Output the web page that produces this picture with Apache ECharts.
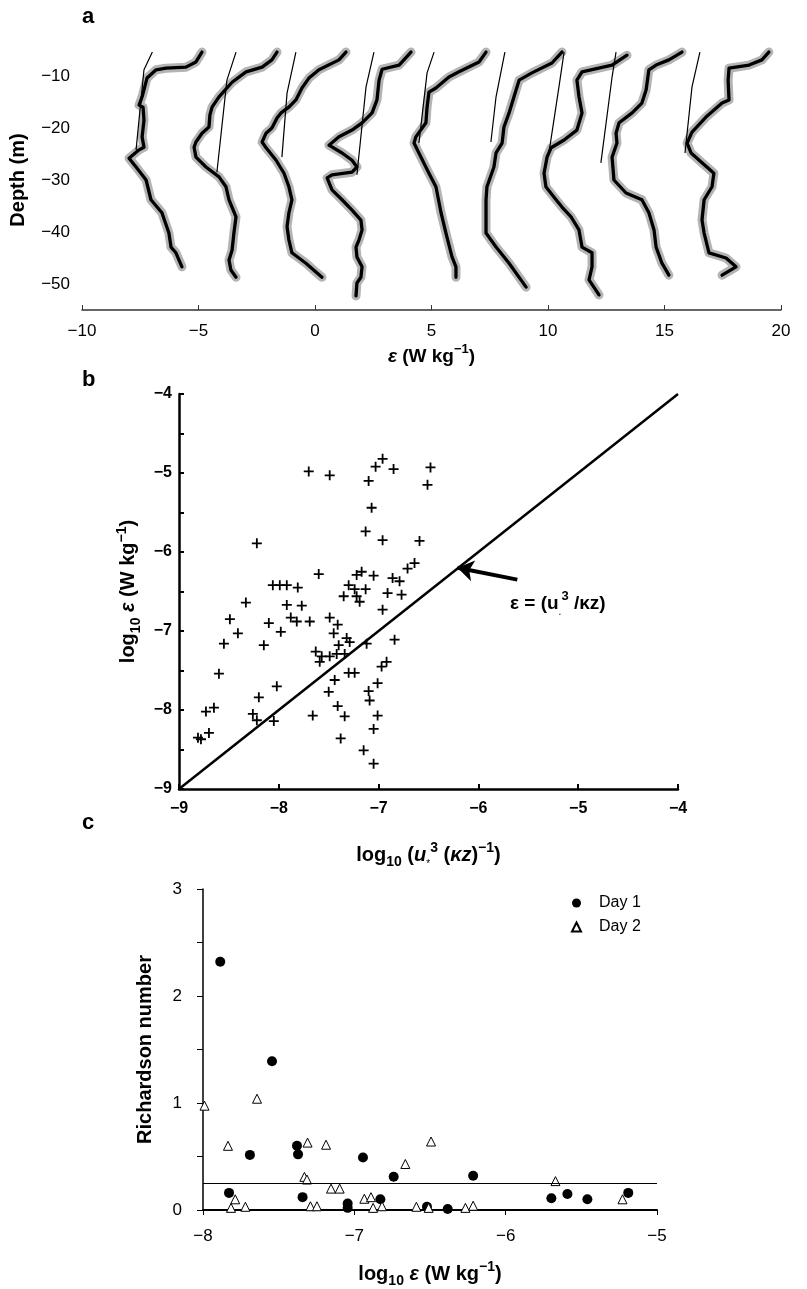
<!DOCTYPE html>
<html><head><meta charset="utf-8">
<script src="https://cdn.jsdelivr.net/npm/echarts/dist/echarts.min.js"></script>
<style>html,body{margin:0;padding:0;background:#fff}#c{width:807px;height:1289px}</style>
</head><body><div id="c"></div>
<script>
const FONT = "'Liberation Sans', Arial, Helvetica, sans-serif";

// ---------- Panel a: dissipation profiles (x = ε offset, y = depth) ----------
const prof1 = [[-4.85,-5.4],[-5.11,-7.3],[-5.54,-8.3],[-6.39,-8.5],[-6.82,-8.8],[-7.21,-10.4],[-7.42,-14.0],[-7.55,-15.6],[-7.38,-16.0],[-7.34,-18.5],[-7.42,-21.7],[-7.34,-23.7],[-7.55,-24.2],[-7.98,-25.8],[-7.68,-27.5],[-7.25,-30.0],[-7.04,-33.8],[-6.57,-36.3],[-6.27,-40.2],[-6.18,-42.9],[-5.97,-44.0],[-5.71,-46.7]];
const prof2 = [[-1.63,-5.4],[-1.85,-6.9],[-2.27,-8.3],[-2.96,-9.2],[-3.56,-11.2],[-4.12,-14.0],[-4.42,-16.0],[-4.51,-17.5],[-4.55,-19.8],[-4.85,-21.0],[-5.11,-22.7],[-5.19,-23.7],[-5.11,-25.6],[-4.68,-27.5],[-4.12,-29.4],[-3.82,-31.3],[-3.69,-33.8],[-3.39,-37.1],[-3.48,-40.2],[-3.56,-43.5],[-3.69,-45.4],[-3.61,-47.3],[-3.39,-48.7]];
const prof3 = [[1.33,-5.4],[1.03,-6.9],[0.17,-8.8],[-0.26,-10.4],[-0.56,-12.3],[-0.82,-14.6],[-1.12,-16.0],[-1.46,-17.1],[-1.63,-18.1],[-1.85,-20.0],[-2.10,-21.0],[-2.27,-22.7],[-2.10,-23.8],[-1.67,-26.2],[-1.33,-28.7],[-1.12,-31.3],[-0.99,-33.8],[-1.12,-36.3],[-1.20,-39.0],[-1.12,-41.5],[-0.99,-44.0],[-0.39,-46.0],[0.04,-47.7],[0.30,-48.7]];
const prof4 = [[4.12,-5.4],[3.61,-7.9],[2.88,-8.7],[2.75,-10.8],[2.66,-14.6],[2.45,-17.1],[2.02,-19.0],[1.59,-20.4],[1.03,-21.7],[0.60,-23.3],[1.16,-24.8],[1.59,-26.2],[1.80,-27.5],[1.59,-28.5],[0.73,-29.0],[0.52,-29.6],[0.73,-31.9],[1.16,-33.8],[1.59,-35.8],[1.97,-37.7],[2.02,-39.6],[1.89,-41.5],[1.76,-42.9],[1.80,-44.8],[2.02,-46.7],[1.97,-48.7],[1.80,-49.8],[1.76,-52.3]];
const prof5 = [[7.34,-5.4],[7.04,-7.3],[6.18,-9.2],[5.75,-10.2],[5.19,-12.3],[4.89,-13.1],[4.81,-16.0],[4.76,-19.0],[4.33,-21.7],[4.25,-22.9],[4.46,-24.8],[4.89,-28.7],[5.19,-31.3],[5.41,-36.3],[5.62,-40.2],[5.88,-44.8],[6.05,-46.7],[6.05,-48.7]];
const prof6 = [[10.6,-5.4],[10.17,-7.5],[9.31,-9.4],[8.76,-10.8],[8.54,-14.0],[8.33,-17.1],[8.11,-19.8],[8.03,-22.9],[7.77,-24.8],[7.68,-27.5],[7.38,-31.3],[7.34,-33.8],[7.34,-37.1],[7.34,-40.2],[7.77,-42.9],[8.33,-46.0],[9.06,-50.6]];
const prof7 = [[13.39,-6.0],[12.75,-7.9],[11.46,-9.2],[11.24,-10.8],[11.33,-14.0],[11.46,-17.1],[11.24,-20.4],[10.69,-22.3],[10.13,-23.8],[9.96,-25.6],[9.83,-28.7],[9.91,-31.3],[10.26,-33.3],[10.6,-35.2],[10.99,-37.1],[11.33,-39.6],[11.46,-42.9],[11.89,-44.0],[11.89,-46.7],[11.76,-49.2],[12.19,-52.1]];
const prof8 = [[15.75,-5.4],[15.19,-6.9],[14.64,-7.9],[14.33,-8.8],[14.21,-12.7],[14.03,-15.2],[13.61,-17.1],[13.05,-19.0],[12.92,-21.0],[12.96,-22.9],[12.75,-25.6],[12.83,-30.0],[13.35,-32.5],[14.03,-33.8],[14.33,-36.3],[14.55,-39.6],[14.64,-42.9],[14.89,-46.0],[15.19,-48.3]];
const prof9 = [[19.48,-5.4],[19.18,-6.9],[18.63,-7.9],[17.77,-8.5],[17.73,-10.8],[17.77,-14.6],[17.47,-15.2],[16.78,-17.9],[16.18,-20.8],[15.97,-22.9],[16.14,-24.8],[16.61,-26.7],[17.12,-28.7],[17.04,-31.3],[16.70,-33.8],[16.61,-37.7],[16.70,-40.2],[16.91,-44.0],[17.64,-45.0],[18.07,-46.7],[17.47,-48.3]];
const thin1 = [[-6.98,-5.4],[-7.34,-8.8],[-7.68,-24.2]];
const thin2 = [[-3.39,-5.4],[-3.78,-10.8],[-4.21,-28.5]];
const thin3 = [[-0.82,-5.4],[-1.20,-13.3],[-1.42,-25.6]];
const thin4 = [[2.53,-5.4],[2.19,-12.1],[1.80,-29.0]];
const thin5 = [[5.11,-5.4],[4.81,-9.4],[4.46,-22.9]];
const thin6 = [[8.15,-5.4],[7.77,-14.0],[7.55,-22.7]];
const thin7 = [[10.69,-5.4],[10.47,-12.1],[10.04,-24.8]];
const thin8 = [[12.92,-5.4],[12.75,-10.2],[12.27,-26.7]];
const thin9 = [[16.52,-5.4],[16.18,-12.1],[15.88,-24.8]];
const profiles = [prof1,prof2,prof3,prof4,prof5,prof6,prof7,prof8,prof9];
const thins = [thin1,thin2,thin3,thin4,thin5,thin6,thin7,thin8,thin9];

// ---------- Panel b: log10 eps vs log10 u*^3/(kz) ----------
const bPoints = [[-7.70,-4.98],[-7.49,-5.03],[-6.96,-4.82],[-7.03,-4.92],[-6.85,-4.95],[-7.10,-5.10],[-6.48,-4.93],[-6.51,-5.15],[-7.07,-5.44],[-7.13,-5.74],[-6.96,-5.85],[-6.59,-5.86],[-8.22,-5.89],[-7.60,-6.28],[-7.17,-6.25],[-7.22,-6.29],[-7.05,-6.30],[-6.64,-6.14],[-6.71,-6.21],[-6.86,-6.33],[-6.79,-6.37],[-8.06,-6.42],[-7.99,-6.42],[-7.92,-6.42],[-7.81,-6.45],[-7.30,-6.42],[-7.24,-6.47],[-7.13,-6.47],[-7.35,-6.56],[-7.22,-6.56],[-7.19,-6.63],[-6.91,-6.52],[-6.77,-6.54],[-8.33,-6.64],[-7.92,-6.67],[-7.77,-6.68],[-6.96,-6.73],[-8.49,-6.85],[-8.10,-6.90],[-7.88,-6.83],[-7.82,-6.88],[-7.69,-6.88],[-7.49,-6.83],[-7.41,-6.92],[-7.98,-7.01],[-8.41,-7.03],[-7.45,-7.03],[-8.55,-7.16],[-8.15,-7.18],[-7.32,-7.09],[-7.29,-7.14],[-7.12,-7.16],[-6.84,-7.11],[-7.40,-7.18],[-7.63,-7.26],[-7.57,-7.32],[-7.49,-7.32],[-7.42,-7.29],[-7.34,-7.29],[-8.60,-7.54],[-7.30,-7.53],[-7.24,-7.53],[-6.97,-7.45],[-6.92,-7.39],[-8.02,-7.70],[-8.20,-7.84],[-8.26,-8.05],[-8.22,-8.13],[-8.05,-8.14],[-8.65,-7.97],[-8.73,-8.02],[-8.70,-8.29],[-8.81,-8.35],[-8.78,-8.37],[-7.50,-7.77],[-7.44,-7.62],[-7.41,-7.95],[-7.34,-8.08],[-7.66,-8.07],[-7.38,-8.36],[-7.10,-7.76],[-7.09,-7.88],[-7.01,-7.66],[-7.01,-8.07],[-7.05,-8.24],[-7.15,-8.51],[-7.05,-8.68],[-7.59,-7.39]];
const oneToOne = [[-9,-9],[-4,-4]];
const arrowCoords = [[-5.61,-6.35],[-6.21,-6.20]];

// ---------- Panel c: Richardson number ----------
const day1 = [[-7.886,2.32],[-7.544,1.39],[-7.69,0.515],[-7.379,0.60],[-7.372,0.52],[-6.943,0.49],[-6.74,0.31],[-6.215,0.32],[-7.828,0.16],[-7.342,0.12],[-7.044,0.06],[-7.044,0.02],[-6.828,0.10],[-6.52,0.03],[-6.383,0.01],[-5.698,0.11],[-5.592,0.15],[-5.46,0.10],[-5.19,0.16]];
const day2 = [[-7.99,0.975],[-7.643,1.04],[-7.835,0.60],[-7.309,0.63],[-7.187,0.61],[-6.493,0.64],[-6.663,0.43],[-7.33,0.31],[-7.313,0.285],[-7.154,0.20],[-7.097,0.20],[-7.787,0.10],[-6.934,0.105],[-6.89,0.12],[-7.815,0.02],[-7.72,0.03],[-7.29,0.035],[-7.247,0.035],[-6.876,0.02],[-6.817,0.035],[-6.59,0.03],[-6.509,0.02],[-6.266,0.02],[-6.215,0.04],[-5.671,0.27],[-5.228,0.10]];
const criticalRi = 0.25;

function minus(v){ return v < 0 ? '\u2212' + Math.abs(v) : String(v); }
function isInt(v){ return Math.abs(v - Math.round(v)) < 1e-6; }

function rich(s){
  const L = s + 8, ss = Math.round(s*0.68);
  return {
    n:{fontSize:s,fontWeight:'bold',fontFamily:FONT,color:'#000',lineHeight:L},
    i:{fontSize:s,fontWeight:'bold',fontStyle:'italic',fontFamily:FONT,color:'#000',lineHeight:L},
    sup:{fontSize:ss,fontWeight:'bold',fontFamily:FONT,color:'#000',lineHeight:ss+2,verticalAlign:'top'},
    sub:{fontSize:ss,fontWeight:'bold',fontFamily:FONT,color:'#000',lineHeight:ss+2,verticalAlign:'bottom'},
    ast:{fontSize:Math.round(s*0.5),fontWeight:'normal',fontFamily:FONT,color:'#000',lineHeight:L-4,verticalAlign:'bottom'}
  };
}

const series = [];
profiles.forEach((p,k)=>{
  series.push({type:'line',xAxisIndex:0,yAxisIndex:0,data:p,symbol:'none',z:1,
    lineStyle:{color:'#b4b4b4',width:9,join:'round',cap:'round',opacity:1}});
  series.push({type:'line',xAxisIndex:0,yAxisIndex:0,data:thins[k],symbol:'none',z:2,
    lineStyle:{color:'#000',width:1.2,opacity:1}});
  series.push({type:'line',xAxisIndex:0,yAxisIndex:0,data:p,symbol:'none',z:3,
    lineStyle:{color:'#000',width:3.3,join:'round',cap:'round',opacity:1}});
});
series.push({type:'line',xAxisIndex:1,yAxisIndex:1,data:oneToOne,symbol:'none',
  lineStyle:{color:'#000',width:2.5,opacity:1}});
series.push({type:'scatter',xAxisIndex:1,yAxisIndex:1,data:bPoints,
  symbol:'path://M4.1,0h1.8v4.1h4.1v1.8h-4.1v4.1h-1.8v-4.1h-4.1v-1.8h4.1z',symbolSize:10,
  itemStyle:{color:'#000',opacity:1}});
series.push({type:'lines',coordinateSystem:'cartesian2d',xAxisIndex:1,yAxisIndex:1,
  data:[{coords:arrowCoords}],symbol:['none','arrow'],symbolSize:[14,16],
  lineStyle:{color:'#000',width:4,opacity:1}});
series.push({name:'Day 1',type:'scatter',xAxisIndex:2,yAxisIndex:2,data:day1,
  symbol:'circle',symbolSize:10,itemStyle:{color:'#000',opacity:1},
  markLine:{silent:true,symbol:'none',label:{show:false},
    lineStyle:{color:'#000',width:1,type:'solid',opacity:1},data:[{yAxis:criticalRi}]}});
series.push({name:'Day 2',type:'scatter',xAxisIndex:2,yAxisIndex:2,data:day2,
  symbol:'triangle',symbolSize:9,itemStyle:{color:'#fff',borderColor:'#000',borderWidth:1,opacity:1}});

const lab = (size,weight)=>({fontFamily:FONT,fontSize:size,fontWeight:weight,color:'#000'});

const option = {
  animation:false,
  backgroundColor:'#fff',
  grid:[
    {left:82,top:50,width:699,height:260},
    {left:179,top:394,width:499,height:395},
    {left:203,top:889,width:454,height:322}
  ],
  xAxis:[
    {gridIndex:0,type:'value',min:-10,max:20,interval:5,
      axisLine:{show:true,onZero:false,lineStyle:{color:'#333',width:1.5}},
      axisTick:{show:true,inside:true,length:5,lineStyle:{color:'#333',width:1}},
      axisLabel:Object.assign(lab(17,'normal'),{margin:13,formatter:minus,showMinLabel:true,showMaxLabel:true}),
      splitLine:{show:false},
      name:'{i|ε}{n| (W kg}{sup|−1}{n|)}',nameLocation:'middle',nameGap:33,
      nameTextStyle:{rich:rich(19)}},
    {gridIndex:1,type:'value',min:-9,max:-4,interval:1,
      axisLine:{show:true,onZero:false,lineStyle:{color:'#000',width:2.5}},
      axisTick:{show:true,inside:true,length:5,lineStyle:{color:'#000',width:2}},
      axisLabel:Object.assign(lab(16,'bold'),{margin:12,formatter:minus,showMinLabel:true,showMaxLabel:true}),
      splitLine:{show:false},
      name:'{n|log}{sub|10}{n| (}{i|u}{ast|*}{sup|3}{n| (}{i|κz}{n|)}{sup|−1}{n|)}',nameLocation:'middle',nameGap:52,
      nameTextStyle:{rich:rich(20)}},
    {gridIndex:2,type:'value',min:-8,max:-5,interval:1,
      axisLine:{show:true,onZero:false,lineStyle:{color:'#000',width:2}},
      axisTick:{show:true,inside:false,length:5,lineStyle:{color:'#000',width:1}},
      axisLabel:Object.assign(lab(17,'normal'),{margin:18,formatter:minus,showMinLabel:true,showMaxLabel:true}),
      splitLine:{show:false},
      name:'{n|log}{sub|10}{n| }{i|ε}{n| (W kg}{sup|−1}{n|)}',nameLocation:'middle',nameGap:50,
      nameTextStyle:{rich:rich(20)}}
  ],
  yAxis:[
    {gridIndex:0,type:'value',min:-55,max:-5,interval:5,
      axisLine:{show:false},axisTick:{show:false},splitLine:{show:false},
      axisLabel:Object.assign(lab(17,'normal'),{margin:12,formatter:v=>(Math.round(v)%10===0?minus(v):'')}),
      name:'{n|Depth (m)}',nameLocation:'middle',nameGap:50,nameTextStyle:{rich:rich(20)}},
    {gridIndex:1,type:'value',min:-9,max:-4,interval:0.5,
      axisLine:{show:true,onZero:false,lineStyle:{color:'#000',width:2.5}},
      axisTick:{show:true,inside:true,length:5,lineStyle:{color:'#000',width:2}},
      axisLabel:Object.assign(lab(16,'bold'),{margin:7,formatter:v=>(isInt(v)?minus(Math.round(v)):''),showMinLabel:true,showMaxLabel:true}),
      splitLine:{show:false},
      name:'{n|log}{sub|10}{n| }{i|ε}{n| (W kg}{sup|−1}{n|)}',nameLocation:'middle',nameGap:36,
      nameTextStyle:{rich:rich(20)}},
    {gridIndex:2,type:'value',min:0,max:3,interval:0.5,
      axisLine:{show:true,onZero:false,lineStyle:{color:'#000',width:1.5}},
      axisTick:{show:true,inside:false,length:6,lineStyle:{color:'#000',width:1}},
      axisLabel:Object.assign(lab(17,'normal'),{margin:21,formatter:v=>(isInt(v)?String(Math.round(v)):''),showMinLabel:true,showMaxLabel:true}),
      splitLine:{show:false},
      name:'{n|Richardson number}',nameLocation:'middle',nameGap:44,
      nameTextStyle:{rich:rich(20)}}
  ],
  legend:{data:['Day 1','Day 2'],left:566,top:890,orient:'vertical',
    itemWidth:9,itemHeight:9,itemGap:8,
    textStyle:{fontFamily:FONT,fontSize:16,color:'#000',padding:[0,0,0,13]}},
  graphic:[
    {type:'text',left:82,top:6,style:{text:'a',font:'bold 22px '+FONT,fill:'#000'}},
    {type:'text',left:82,top:369,style:{text:'b',font:'bold 22px '+FONT,fill:'#000'}},
    {type:'text',left:82,top:812,style:{text:'c',font:'bold 22px '+FONT,fill:'#000'}},
    {type:'text',left:510,top:590,style:{text:'{n|ε = (u}{ast|.}{sup|3}{n| /κz)}',rich:rich(19),fill:'#000'}}
  ],
  series:series
};
const chart = echarts.init(document.getElementById('c'),null,{renderer:'canvas'});
chart.setOption(option);
</script></body></html>
